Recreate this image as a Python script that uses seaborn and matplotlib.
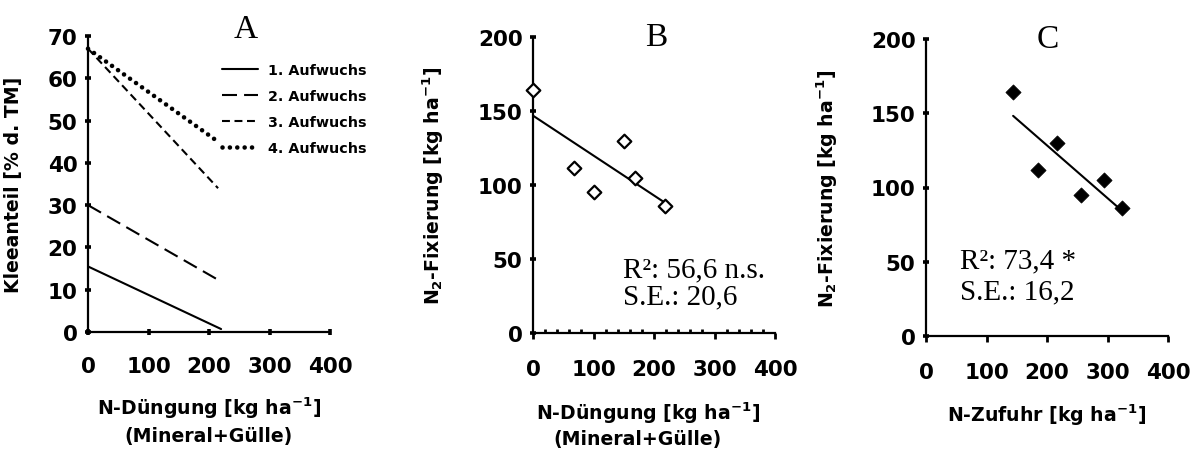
import numpy as np
import pandas as pd
import matplotlib
matplotlib.use("Agg")
import matplotlib.pyplot as plt
from matplotlib.ticker import MultipleLocator
import seaborn as sns

# ---------------- data ----------------
# Panel A: regression lines of clover share vs N fertilisation
a_series = ["1. Aufwuchs", "2. Aufwuchs", "3. Aufwuchs", "4. Aufwuchs"]
a_x_start = [0, 0, 0, 0]
a_x_end = [220, 213, 215, 215]
a_y_start = [15.5, 30.0, 67.0, 67.0]
a_y_end = [0.7, 12.5, 34.0, 45.0]

# Panel B: N2 fixation vs N fertilisation
b_x = [0, 68, 100, 150, 169, 218]
b_y = [164, 111.5, 95, 129.5, 105, 86]

# Panel C: N2 fixation vs N supply
c_x = [144, 185, 216, 256, 295, 324]
c_y = [164, 112, 130, 95, 105, 86]

b_text = ["R²: 56,6 n.s.", "S.E.: 20,6"]
c_text = ["R²: 73,4 *", "S.E.: 16,2"]

# ---------------- style ----------------
sns.set_style("ticks")
plt.rcParams["font.family"] = ["DejaVu Sans"]
plt.rcParams["font.weight"] = "bold"
plt.rcParams["mathtext.fontset"] = "dejavusans"
for k in ("text.color", "axes.labelcolor", "xtick.color", "ytick.color", "axes.edgecolor"):
    plt.rcParams[k] = "black"

fig = plt.figure(figsize=(11.94, 4.52), dpi=100)
W, H = 1194, 452


def add_axes(left, top, right, bottom):
    return fig.add_axes([left / W, 1 - bottom / H, (right - left) / W, (bottom - top) / H])


axA = add_axes(88, 37, 330, 333)
axB = add_axes(533, 38, 775, 334)
axC = add_axes(926, 40, 1168, 337)

TICK_FS = 15.5
label_font = dict(fontsize=13.6, fontweight="bold", color="black")
serif = "Liberation Serif"
TITLE_FS = 24
ANN_FS = 21

for ax in (axA, axB, axC):
    sns.despine(ax=ax)
    for s in ("left", "bottom"):
        ax.spines[s].set_linewidth(1.6)
        ax.spines[s].set_color("black")
    ax.set_xlim(0, 400)
    ax.xaxis.set_major_locator(MultipleLocator(100))
    ax.tick_params(axis="both", colors="black", labelsize=TICK_FS, width=2.6, length=4.5)
    ax.tick_params(axis="x", pad=15)
    ax.tick_params(axis="y", pad=5)

# ---------------- Panel A ----------------
styles = {
    "1. Aufwuchs": dict(linestyle="-", lw=1.5),
    "2. Aufwuchs": dict(linestyle=(0, (7.2, 3.4)), lw=1.5),
    "3. Aufwuchs": dict(linestyle=(0, (3.8, 2.2)), lw=1.5),
    "4. Aufwuchs": dict(linestyle=(0, (0.01, 1.6)), lw=3.3, dash_capstyle="round"),
}
for name, x0, x1, y0, y1 in zip(a_series, a_x_start, a_x_end, a_y_start, a_y_end):
    df = pd.DataFrame({"x": [x0, x1], "y": [y0, y1]})
    sns.lineplot(data=df, x="x", y="y", ax=axA, color="black", label=name,
                 clip_on=False, **styles[name])

axA.set_ylim(0, 70)
axA.yaxis.set_major_locator(MultipleLocator(10))
axA.tick_params(axis="both", direction="inout", length=5)
axA.set_xlabel("")
axA.set_ylabel("Kleeanteil [% d. TM]", **label_font)
axA.yaxis.set_label_coords(-0.27, 0.5)
axA.text(0.5, -0.253, "N-Düngung [kg ha$^{\\mathbf{-1}}$]", transform=axA.transAxes,
         ha="center", va="center", **label_font)
axA.text(0.5, -0.351, "(Mineral+Gülle)", transform=axA.transAxes,
         ha="center", va="center", **label_font)
axA.text(0.65, 1.024, "A", transform=axA.transAxes, ha="center", va="center",
         fontsize=TITLE_FS, family=serif, fontweight="normal")
leg = axA.legend(loc="upper left", bbox_to_anchor=(0.555, 0.91), frameon=False,
                 prop={"weight": "bold", "size": 10.3}, handlelength=2.5,
                 handletextpad=0.7, labelspacing=0.85, borderpad=0, borderaxespad=0)
for t in leg.get_texts():
    t.set_color("black")

# ---------------- Panel B ----------------
sns.regplot(x=b_x, y=b_y, ax=axB, ci=None, scatter=False,
            line_kws=dict(color="black", lw=1.5))
sns.scatterplot(x=b_x, y=b_y, ax=axB, marker="D", s=48, facecolor="white",
                edgecolor="black", linewidth=1.6, clip_on=False, zorder=5)
axB.set_ylim(0, 200)
axB.yaxis.set_major_locator(MultipleLocator(50))
axB.xaxis.set_minor_locator(MultipleLocator(20))
axB.tick_params(axis="y", direction="inout", length=5)
axB.tick_params(axis="x", which="major", direction="out", length=4, width=2)
axB.tick_params(axis="x", which="minor", direction="in", length=3, width=2, colors="black")
axB.set_xlim(0, 400)
axB.set_ylabel("N$_{\\mathbf{2}}$-Fixierung [kg ha$^{\\mathbf{-1}}$]", **label_font)
axB.yaxis.set_label_coords(-0.36, 0.5)
axB.text(0.475, -0.267, "N-Düngung [kg ha$^{\\mathbf{-1}}$]", transform=axB.transAxes,
         ha="center", va="center", **label_font)
axB.text(0.43, -0.358, "(Mineral+Gülle)", transform=axB.transAxes,
         ha="center", va="center", **label_font)
axB.text(0.51, 1.0, "B", transform=axB.transAxes, ha="center", va="center",
         fontsize=TITLE_FS, family=serif, fontweight="normal")
axB.text(0.37, 0.216, b_text[0], transform=axB.transAxes, ha="left", va="center",
         fontsize=ANN_FS, family=serif, fontweight="normal")
axB.text(0.37, 0.125, b_text[1], transform=axB.transAxes, ha="left", va="center",
         fontsize=ANN_FS, family=serif, fontweight="normal")

# ---------------- Panel C ----------------
sns.regplot(x=c_x, y=c_y, ax=axC, ci=None, scatter=False,
            line_kws=dict(color="black", lw=1.5))
sns.scatterplot(x=c_x, y=c_y, ax=axC, marker="D", s=60, color="black",
                edgecolor="black", linewidth=0.5, clip_on=False, zorder=5)
axC.set_ylim(0, 200)
axC.set_xlim(0, 400)
axC.yaxis.set_major_locator(MultipleLocator(50))
axC.tick_params(axis="y", direction="inout", length=5)
axC.tick_params(axis="x", direction="out", length=4, width=2)
axC.set_ylabel("N$_{\\mathbf{2}}$-Fixierung [kg ha$^{\\mathbf{-1}}$]", **label_font)
axC.yaxis.set_label_coords(-0.355, 0.5)
axC.set_xlabel("")
axC.text(0.5, -0.264, "N-Zufuhr [kg ha$^{\\mathbf{-1}}$]", transform=axC.transAxes,
         ha="center", va="center", **label_font)
axC.text(0.504, 1.0, "C", transform=axC.transAxes, ha="center", va="center",
         fontsize=TITLE_FS, family=serif, fontweight="normal")
axC.text(0.14, 0.253, c_text[0], transform=axC.transAxes, ha="left", va="center",
         fontsize=ANN_FS, family=serif, fontweight="normal")
axC.text(0.14, 0.149, c_text[1], transform=axC.transAxes, ha="left", va="center",
         fontsize=ANN_FS, family=serif, fontweight="normal")

for ax in (axA, axB, axC):
    for lab in ax.get_xticklabels() + ax.get_yticklabels():
        lab.set_fontweight("bold")
        lab.set_color("black")

fig.savefig("out.png", dpi=100)
